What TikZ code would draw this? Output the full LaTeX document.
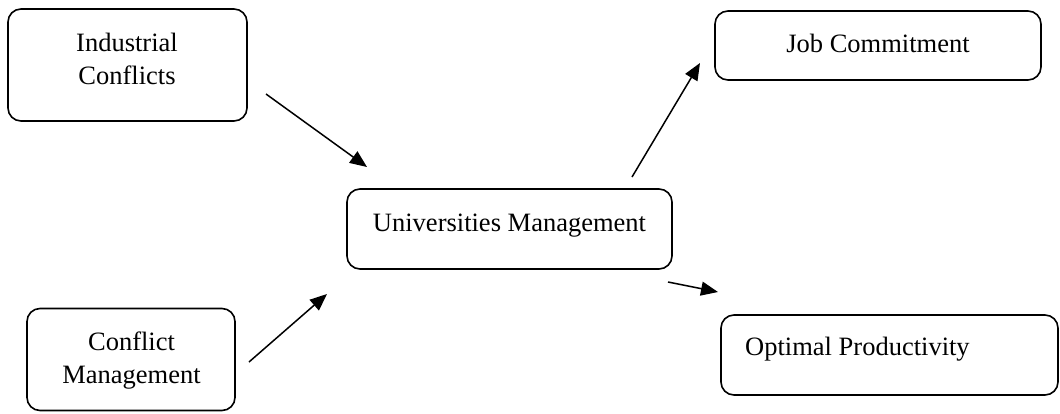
\documentclass[tikz,border=0pt]{standalone}
\usepackage{fontspec}
\setmainfont{Liberation Serif}
\usetikzlibrary{arrows.meta}
\begin{document}
\begin{tikzpicture}[x=1pt,y=-1pt,
  box/.style={draw, line width=1.6pt, rounded corners=13pt, inner sep=0pt},
  lbl/.style={anchor=base, inner sep=0pt, font=\fontsize{26.5}{33}\selectfont},
  arr/.style={line width=1.5pt, -{Triangle[length=17pt,width=14pt]}}]
\useasboundingbox (0,0) rectangle (1060,413);
% boxes
\node[box, minimum width=239pt, minimum height=112pt] (ic) at (127.5,65) {};
\node[box, minimum width=326pt, minimum height=69pt] (jc) at (878,45.5) {};
\node[box, minimum width=325pt, minimum height=80pt] (um) at (509.5,229) {};
\node[box, minimum width=208pt, minimum height=102pt] (cm) at (131,359.5) {};
\node[box, minimum width=337pt, minimum height=80pt] (op) at (889.5,355) {};
% texts
\node[lbl] (ict) at (127,84) {\begin{tabular}[b]{@{}c@{}}Industrial\\Conflicts\end{tabular}};
\node[lbl] (jct) at (878,52) {Job Commitment};
\node[lbl] (umt) at (509.5,231.5) {Universities Management};
\node[lbl] (cmt) at (131.5,383) {\begin{tabular}[b]{@{}c@{}}Conflict\\Management\end{tabular}};
\node[lbl, anchor=base west] (opt) at (745,355) {Optimal Productivity};
% arrow end points
\coordinate (a1s) at (266,94);  \coordinate (a1e) at (367,167);
\coordinate (a2s) at (632,177); \coordinate (a2e) at (700,63);
\coordinate (a3s) at (249,362); \coordinate (a3e) at (327,294);
\coordinate (a4s) at (668,282); \coordinate (a4e) at (718,292);
\draw[arr] (a1s) -- (a1e);
\draw[arr] (a2s) -- (a2e);
\draw[arr] (a3s) -- (a3e);
\draw[arr] (a4s) -- (a4e);
\end{tikzpicture}
\end{document}
